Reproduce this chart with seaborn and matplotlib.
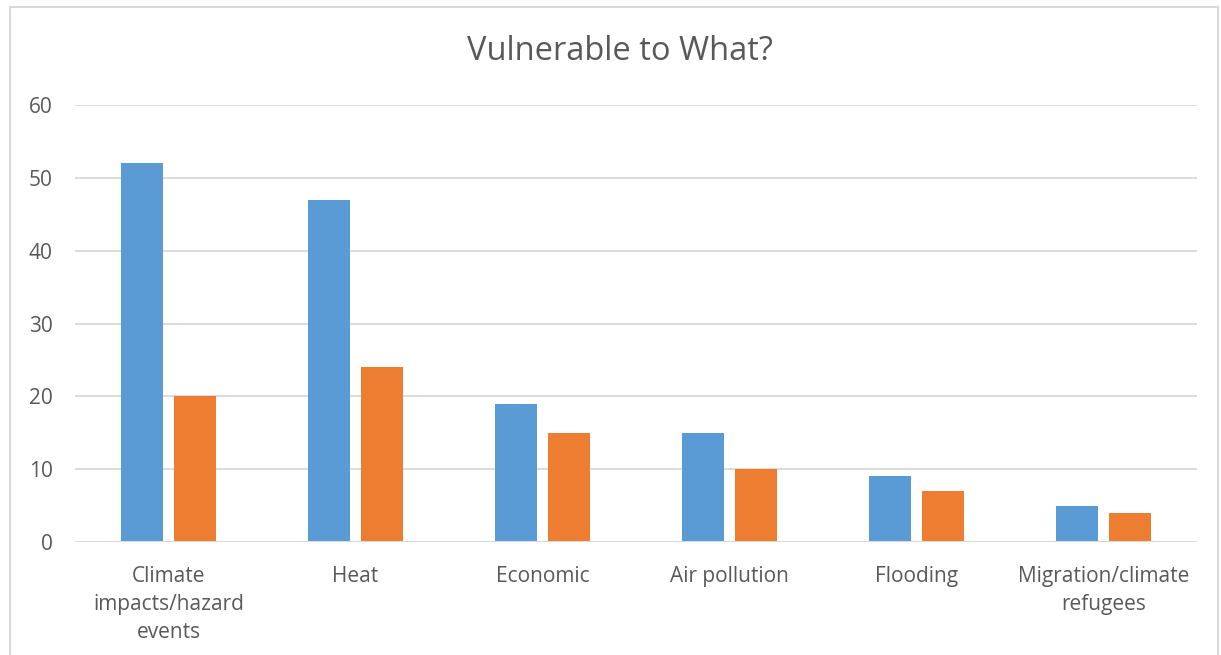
import matplotlib
matplotlib.use("Agg")
import matplotlib.pyplot as plt
import seaborn as sns
import pandas as pd
from matplotlib.patches import Rectangle

categories = ["Climate\nimpacts/hazard\nevents", "Heat", "Economic",
              "Air pollution", "Flooding", "Migration/climate\nrefugees"]
series_a = [52, 47, 19, 15, 9, 5]
series_b = [20, 24, 15, 10, 7, 4]
series_names = ["Series 1", "Series 2"]
y_ticks = [0, 10, 20, 30, 40, 50, 60]

df = pd.DataFrame({
    "category": categories * 2,
    "value": series_a + series_b,
    "series": [series_names[0]] * len(categories) + [series_names[1]] * len(categories),
})

sns.set_theme(style="white")
plt.rcParams["font.family"] = ["Open Sans", "DejaVu Sans"]

text_color = "#595959"
grid_color = "#D9D9D9"

fig = plt.figure(figsize=(12.21, 6.55), dpi=100)
ax = fig.add_axes([75 / 1221, 1 - 542 / 655, (1197 - 75) / 1221, (542 - 105) / 655])

sns.barplot(data=df, x="category", y="value", hue="series",
            palette=["#5B9BD5", "#ED7D31"], width=0.567, gap=0.21,
            order=categories, hue_order=series_names, legend=False,
            saturation=1, linewidth=0, ax=ax)

ax.set_ylim(0, 60)
ax.set_xlim(-0.5, len(categories) - 0.5)
ax.set_yticks(y_ticks)
ax.yaxis.grid(True, color=grid_color, linewidth=1.3)
ax.set_axisbelow(True)
for s in ax.spines.values():
    s.set_visible(False)
ax.axhline(0, color=grid_color, linewidth=1.5, zorder=3)
ax.set_xlabel("")
ax.set_ylabel("")
ax.tick_params(axis="y", length=0, pad=16, labelsize=15, labelcolor=text_color)
ax.tick_params(axis="x", length=0, pad=17, labelsize=15, labelcolor=text_color)
for lbl in ax.get_yticklabels():
    lbl.set_horizontalalignment("right")
for lbl in ax.get_xticklabels():
    lbl.set_linespacing(1.45)

fig.text(620 / 1221, 1 - 52 / 655, "Vulnerable to What?", ha="center", va="center",
         fontsize=23.5, color=text_color)

# chart area outline
fig.patches.append(Rectangle((10 / 1221, -0.05), (1218 - 10) / 1221, 1 - 7 / 655 + 0.05,
                             transform=fig.transFigure, fill=False,
                             edgecolor=grid_color, linewidth=1.5))

fig.savefig("out.png", dpi=100, facecolor="white")
